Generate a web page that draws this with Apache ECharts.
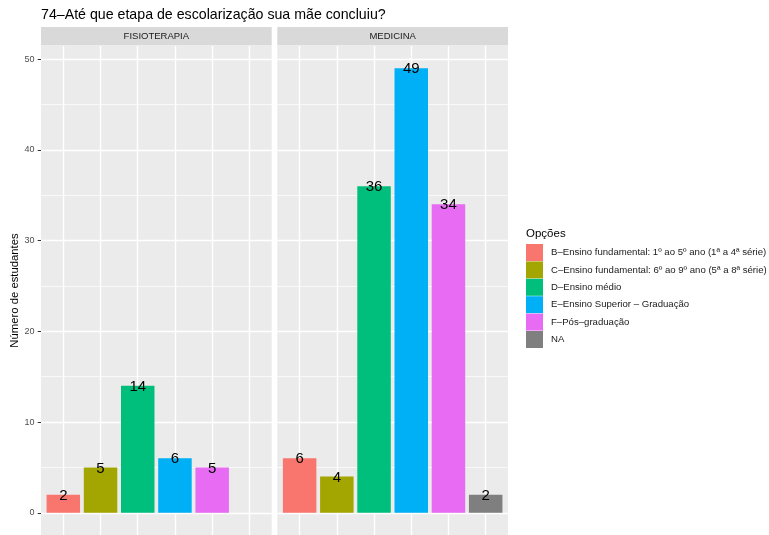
<!DOCTYPE html>
<html><head><meta charset="utf-8">
<script src="https://cdn.jsdelivr.net/npm/echarts@6/dist/echarts.min.js"></script>
<style>html,body{margin:0;padding:0;background:#fff}#c{width:769px;height:535px}</style>
</head><body><div id="c"></div>
<script>
const titleText = '74–Até que etapa de escolarização sua mãe concluiu?';
const categories = [
  'B–Ensino fundamental: 1º ao 5º ano (1ª a 4ª série)',
  'C–Ensino fundamental: 6º ao 9º ano (5ª a 8ª série)',
  'D–Ensino médio',
  'E–Ensino Superior – Graduação',
  'F–Pós–graduação',
  'NA'
];
const panels = ['FISIOTERAPIA', 'MEDICINA'];
const fisioterapia = [2, 5, 14, 6, 5, null];
const medicina = [6, 4, 36, 49, 34, 2];
const yTicks = [0, 10, 20, 30, 40, 50];
const yMinor = [5, 15, 25, 35, 45];
const colors = ['#F8766D', '#A3A500', '#00BF7D', '#00B0F6', '#E76BF3', '#7F7F7F'];

const FONT = 'Liberation Sans, Arial, Helvetica, sans-serif';
const panelW = 230.7, panelTop = 46, panelH = 490;
const lefts = [41, 277.3];
const stripTop = 27, stripH = 18.5;
const nCat = categories.length;
const xMin = 0.4, xMax = nCat + 0.6;
const barW = 0.9 * panelW / (xMax - xMin);
const yMax = 49, yPad = yMax * 0.05;

const panelData = [fisioterapia, medicina];
const grids = lefts.map(l => ({left: l, top: panelTop, width: panelW, height: panelH, show: true, backgroundColor: '#EBEBEB', borderWidth: 0}));
const xAxes = lefts.map((l, i) => ({type: 'value', gridIndex: i, min: xMin, max: xMax, axisLine: {show: false}, axisTick: {show: false}, axisLabel: {show: false}, splitLine: {show: false}}));
const yAxes = lefts.map((l, i) => ({
  type: 'value', gridIndex: i, min: -yPad, max: yMax + yPad,
  axisLine: {show: false},
  axisTick: {show: i === 0, length: 3.3, lineStyle: {color: '#333333', width: 1}, customValues: yTicks},
  axisLabel: {show: i === 0, color: '#4D4D4D', fontSize: 9, fontFamily: FONT, margin: 6.5, customValues: yTicks},
  splitLine: {show: false},
  name: i === 0 ? 'Número de estudantes' : '',
  nameLocation: 'middle', nameGap: 21,
  nameTextStyle: {color: '#000', fontSize: 11.3, fontFamily: FONT}
}));

const series = [];
panels.forEach((p, pi) => {
  const gl = [];
  for (let k = 1; k <= nCat; k++) gl.push({xAxis: k, lineStyle: {color: '#fff', width: 1.4, type: 'solid'}});
  yTicks.forEach(v => gl.push({yAxis: v, lineStyle: {color: '#fff', width: 1.4, type: 'solid'}}));
  yMinor.forEach(v => gl.push({yAxis: v, lineStyle: {color: '#fff', width: 0.7, type: 'solid'}}));
  series.push({
    type: 'line', xAxisIndex: pi, yAxisIndex: pi, data: [], silent: true,
    markLine: {silent: true, symbol: 'none', label: {show: false}, z: 1, animation: false, data: gl}
  });
  categories.forEach((c, ci) => {
    const v = panelData[pi][ci];
    series.push({
      name: c, type: 'bar', xAxisIndex: pi, yAxisIndex: pi, barWidth: barW, barGap: '-100%', z: 3,
      itemStyle: {color: colors[ci]},
      data: v == null ? [] : [[ci + 1, v]],
      label: {show: true, position: 'top', distance: -8.5, color: '#000', fontSize: 15, fontFamily: FONT,
        formatter: prm => prm.value[1]},
      animation: false
    });
  });
});

const graphics = [];
panels.forEach((p, pi) => {
  graphics.push({type: 'rect', left: lefts[pi], top: stripTop, shape: {width: panelW, height: stripH}, style: {fill: '#D9D9D9'}});
  graphics.push({type: 'text', x: lefts[pi] + panelW / 2, y: stripTop + stripH / 2,
    style: {text: p, fill: '#1A1A1A', fontSize: 9.5, fontFamily: FONT, align: 'center', verticalAlign: 'middle'}});
});

const chart = echarts.init(document.getElementById('c'), null, {renderer: 'canvas'});
chart.setOption({
  animation: false,
  backgroundColor: '#fff',
  title: [
    {text: titleText, left: 36, top: 3, textStyle: {fontSize: 14.2, fontWeight: 'normal', color: '#000', fontFamily: FONT}},
    {text: 'Opções', left: 521, top: 223, textStyle: {fontSize: 11.5, fontWeight: 'normal', color: '#000', fontFamily: FONT}}
  ],
  legend: {
    orient: 'vertical', left: 526, top: 244, padding: 0,
    itemWidth: 17, itemHeight: 17, itemGap: 0.4, icon: 'rect',
    data: categories,
    textStyle: {fontSize: 9.6, color: '#1A1A1A', fontFamily: FONT, padding: [0, 0, 0, 3]},
    selectedMode: false
  },
  grid: grids, xAxis: xAxes, yAxis: yAxes, series: series, graphic: graphics
});
</script></body></html>
